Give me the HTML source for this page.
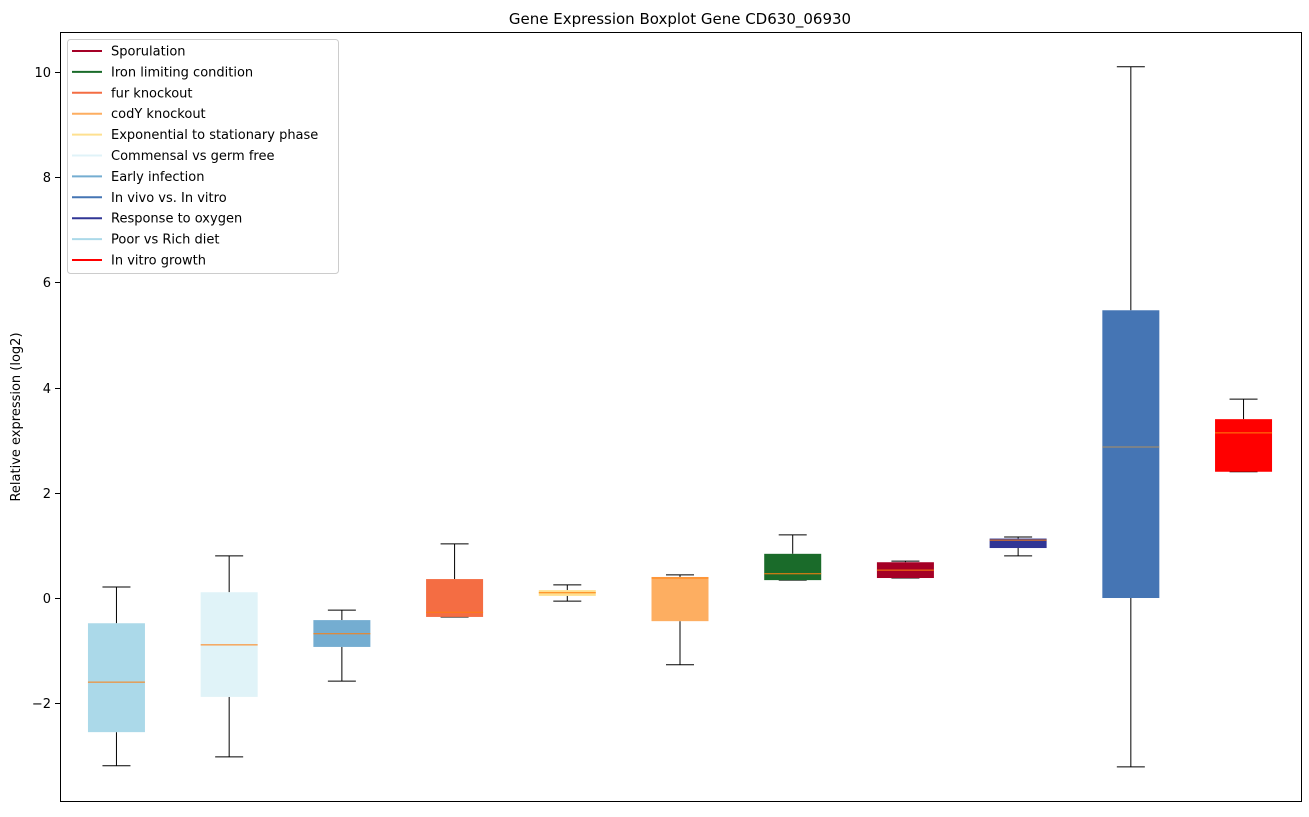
<!DOCTYPE html>
<html><head><meta charset="utf-8"><style>
body{margin:0;background:#fff;font-family:"Liberation Sans","DejaVu Sans",sans-serif}
svg text{font-family:"DejaVu Sans","Liberation Sans",sans-serif}
</style></head><body>
<svg id="chart" width="1309" height="812" xmlns="http://www.w3.org/2000/svg">
<rect width="1309" height="812" fill="#fff"/>
<text x="680" y="24" font-size="15" text-anchor="middle">Gene Expression Boxplot Gene CD630_06930</text>
<text transform="translate(20,417) rotate(-90)" font-size="13" text-anchor="middle">Relative expression (log2)</text>
<g id="boxes"></g>
<g id="yticks"></g>
<rect x="60.5" y="32.5" width="1241" height="769" fill="none" stroke="#000" stroke-width="1"/>
<g id="legend"></g>
</svg>
<script>
const categories=["Poor vs Rich diet","Commensal vs germ free","Early infection","fur knockout","Exponential to stationary phase","codY knockout","Iron limiting condition","Sporulation","Response to oxygen","In vivo vs. In vitro","In vitro growth"];
const colors=["#abd9e9","#e0f3f8","#74add1","#f46d43","#fee090","#fdae61","#1a6b2a","#a50026","#313695","#4575b4","#ff0000"];
const whiskerLow=[-3.19,-3.02,-1.58,-0.36,-0.06,-1.27,0.34,0.38,0.8,-3.21,2.4];
const q1=[-2.55,-1.88,-0.93,-0.36,0.04,-0.44,0.34,0.38,0.95,0,2.4];
const medians=[-1.6,-0.89,-0.68,-0.27,0.1,0.38,0.46,0.53,1.1,2.87,3.14];
const q3=[-0.48,0.11,-0.42,0.36,0.15,0.4,0.84,0.68,1.13,5.47,3.4];
const whiskerHigh=[0.21,0.8,-0.23,1.03,0.25,0.44,1.2,0.7,1.16,10.1,3.78];
const yTicks=[-2,0,2,4,6,8,10];
const legendLabels=["Sporulation","Iron limiting condition","fur knockout","codY knockout","Exponential to stationary phase","Commensal vs germ free","Early infection","In vivo vs. In vitro","Response to oxygen","Poor vs Rich diet","In vitro growth"];
const legendColors=["#a50026","#1a6b2a","#f46d43","#fdae61","#fee090","#e0f3f8","#74add1","#4575b4","#313695","#abd9e9","#ff0000"];

const NS="http://www.w3.org/2000/svg";
const yMin=-3.878,yMax=10.76,pTop=32,pBottom=802,pLeft=60,pRight=1302;
const y=v=>pBottom-(v-yMin)/(yMax-yMin)*(pBottom-pTop);
const step=(pRight-pLeft)/categories.length;
const x=i=>pLeft+step*(i+0.5)-(i*0.2);
function mk(tag,attrs,parent){const e=document.createElementNS(NS,tag);for(const k in attrs)e.setAttribute(k,attrs[k]);parent.appendChild(e);return e;}
const gb=document.getElementById('boxes');
categories.forEach((c,i)=>{
  const g=mk('g',{},gb);
  
  
  const cx=x(i),w=57;
  mk('line',{x1:cx,x2:cx,y1:y(whiskerLow[i]),y2:y(q1[i]),stroke:'#000','stroke-width':1},g);
  mk('line',{x1:cx,x2:cx,y1:y(q3[i]),y2:y(whiskerHigh[i]),stroke:'#000','stroke-width':1},g);
  mk('line',{x1:cx-14,x2:cx+14,y1:y(whiskerLow[i]),y2:y(whiskerLow[i]),stroke:'#000','stroke-width':1},g);
  mk('line',{x1:cx-14,x2:cx+14,y1:y(whiskerHigh[i]),y2:y(whiskerHigh[i]),stroke:'#000','stroke-width':1},g);
  mk('rect',{x:cx-w/2,y:y(q3[i]),width:w,height:Math.max(1,y(q1[i])-y(q3[i])),fill:colors[i]},g);
  mk('line',{x1:cx-w/2,x2:cx+w/2,y1:y(medians[i]),y2:y(medians[i]),stroke:i==9?'#b09060':'#ff7f0e','stroke-width':1},g);
});
const gt=document.getElementById('yticks');
yTicks.forEach(t=>{
  const yy=Math.round(y(t))+0.5;
  const l=mk('line',{x1:55,x2:60,y1:yy,y2:yy,stroke:'#000'},gt);
  
  
  const tx=mk('text',{x:51,y:yy+4.5,'font-size':13,'text-anchor':'end'},gt);
  tx.textContent=t<0?'\u2212'+(-t):String(t);
  
  
});
const gl=document.getElementById('legend');


mk('rect',{x:67.5,y:39.5,width:271,height:234,rx:3,fill:'#fff','fill-opacity':0.8,stroke:'#ccc'},gl);
legendLabels.forEach((l,i)=>{
  const yy=51+i*20.9;
  const g=mk('g',{},gl);
  
  
  mk('line',{x1:72,x2:102,y1:yy,y2:yy,stroke:legendColors[i],'stroke-width':2},g);
  const t=mk('text',{x:111,y:yy+4.5,'font-size':13},g);
  t.textContent=l;
});
</script>
</body></html>
